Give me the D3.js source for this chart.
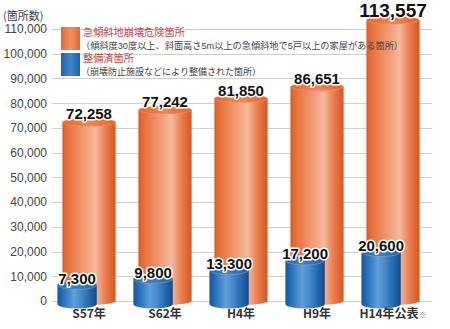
<!DOCTYPE html>
<html>
<head>
<meta charset="utf-8">
<script src="https://cdn.jsdelivr.net/npm/d3@7"></script>
<style>
  html, body { margin: 0; padding: 0; background: #fff; }
  svg { display: block; }
</style>
</head>
<body>
<script>
// Data: hazard sites vs. sites with protective works, by survey year
const categories = ["S57年", "S62年", "H4年", "H9年", "H14年公表"];
const hazardSites = [72258, 77242, 81850, 86651, 113557];
const improvedSites = [7300, 9800, 13300, 17200, 20600];
const yTicks = [0, 10000, 20000, 30000, 40000, 50000, 60000, 70000, 80000, 90000, 100000, 110000];
const legendItems = [
  { title: "急傾斜地崩壊危険箇所", note: "（傾斜度30度以上、斜面高さ5m以上の急傾斜地で5戸以上の家屋がある箇所）", kind: "orange" },
  { title: "整備済箇所", note: "（崩壊防止施設などにより整備された箇所）", kind: "blue" }
];

const W = 450, H = 329;
const svg = d3.select("body").append("svg").attr("width", W).attr("height", H);

const fontNum = "'Liberation Sans Narrow', 'Liberation Sans', Arial, sans-serif";
const fontJP = "'Noto Sans CJK JP', 'Noto Sans', sans-serif";
const fontLegend = "'Liberation Sans', 'Noto Sans CJK JP', sans-serif";

const y = d3.scaleLinear().domain([0, 110000]).range([301, 29]);
const x = d3.scaleBand().domain(categories).range([51, 431]).paddingInner(0.3).paddingOuter(0.15);

// Gradients
const defs = svg.append("defs");
function hGrad(id, stops) {
  const g = defs.append("linearGradient").attr("id", id).attr("x1", "0%").attr("x2", "100%").attr("y1", "0%").attr("y2", "0%");
  stops.forEach(([o, c]) => g.append("stop").attr("offset", o).attr("stop-color", c));
}
hGrad("orangeBody", [["0%", "#dc5c24"], ["12%", "#e8733d"], ["45%", "#f1a07a"], ["62%", "#f5b99e"], ["82%", "#ea7b4c"], ["100%", "#d6561f"]]);
hGrad("orangeTop", [["0%", "#e66830"], ["50%", "#f08554"], ["100%", "#e2652d"]]);
hGrad("blueBody", [["0%", "#1a559a"], ["14%", "#2470bb"], ["42%", "#5d9fd9"], ["58%", "#4a8ccc"], ["85%", "#1f63aa"], ["100%", "#174b88"]]);
hGrad("blueTop", [["0%", "#1f66b0"], ["50%", "#3a82c8"], ["100%", "#1d60a8"]]);
hGrad("orangeSwatch", [["0%", "#e2662e"], ["50%", "#ef9468"], ["100%", "#e2662e"]]);
hGrad("blueSwatch", [["0%", "#1d62ab"], ["50%", "#3c86cc"], ["100%", "#1d62ab"]]);

// Gridlines
const grid = svg.append("g");
grid.selectAll("line").data(yTicks).join("line")
  .attr("x1", 52).attr("x2", 432)
  .attr("y1", d => Math.round(y(d)) + 0.5).attr("y2", d => Math.round(y(d)) + 0.5)
  .attr("stroke", "#cfcfcf").attr("stroke-width", 1);

// Y axis labels
const yAxis = d3.axisLeft(y).tickValues(yTicks).tickSize(0).tickPadding(0).tickFormat(d3.format(","));
const ya = svg.append("g").attr("transform", "translate(47,0)").call(yAxis);
ya.select(".domain").remove();
ya.selectAll("text").attr("font-family", "'Liberation Sans', Arial, sans-serif").attr("font-size", 12).attr("fill", "#444");

svg.append("text").attr("x", 3).attr("y", 20)
  .attr("font-family", fontJP).attr("font-size", 11).attr("fill", "#444")
  .text("(箇所数)");

// Cylinder helper
function cylinder(g, x0, w, yTop, yBot, ry, bodyFill, topFill) {
  const rx = w / 2, cx = x0 + rx;
  g.append("path")
    .attr("d", `M${x0},${yTop} L${x0},${yBot} A${rx},${ry} 0 0 0 ${x0 + w},${yBot} L${x0 + w},${yTop} Z`)
    .attr("fill", bodyFill);
  g.append("ellipse").attr("cx", cx).attr("cy", yTop).attr("rx", rx).attr("ry", ry)
    .attr("fill", topFill).attr("stroke", "#f3a37d").attr("stroke-width", 0.6).attr("stroke-opacity", 0.7);
}

const bars = svg.append("g");
const bw = x.bandwidth();
const blueW = bw * 0.74;

// Orange cylinders
categories.forEach((c, i) => {
  cylinder(bars, x(c), bw, y(hazardSites[i]), y(0), 4, "url(#orangeBody)", "url(#orangeTop)");
});
// Blue cylinders in front
categories.forEach((c, i) => {
  cylinder(bars, x(c) - 5, blueW, y(improvedSites[i]) + 2, y(0) + 3, 4.5, "url(#blueBody)", "url(#blueTop)");
});

// Value labels with white halo
function valueLabel(px, py, val, size) {
  svg.append("text").attr("x", px).attr("y", py).attr("text-anchor", "middle")
    .attr("font-family", fontNum).attr("font-weight", "bold").attr("font-size", size)
    .attr("fill", "#111").attr("stroke", "#fff").attr("stroke-width", 3).attr("stroke-linejoin", "round")
    .attr("paint-order", "stroke")
    .text(d3.format(",")(val));
}
categories.forEach((c, i) => {
  const big = i === categories.length - 1;
  valueLabel(x(c) + bw / 2, y(hazardSites[i]) - 3, hazardSites[i], big ? 19 : 15);
  valueLabel(x(c) - 5 + blueW / 2, y(improvedSites[i]) + 1, improvedSites[i], 15);
});

// Category labels
categories.forEach((c, i) => {
  const t = svg.append("text").attr("x", x(c) + bw / 2).attr("y", 318).attr("text-anchor", "middle")
    .attr("font-family", fontJP).attr("font-weight", "bold").attr("font-size", 12).attr("fill", "#333");
  t.append("tspan").text(c);
  if (i === categories.length - 1) {
    t.append("tspan").attr("font-size", 8).attr("font-weight", "normal").attr("fill", "#777").text("※");
  }
});

// Legend, drawn on top of the bars
const lg = svg.append("g");
legendItems.forEach((it, i) => {
  const top = 27 + i * 26;
  lg.append("rect").attr("x", 61).attr("y", top).attr("width", 19).attr("height", 23)
    .attr("fill", it.kind === "orange" ? "url(#orangeSwatch)" : "url(#blueSwatch)");
  lg.append("text").attr("x", 83).attr("y", top + 9)
    .attr("font-family", fontLegend).attr("font-size", 10.2).attr("fill", "#c8433d")
    .text(it.title);
  const note = lg.append("text").attr("x", 81).attr("y", top + 21.5)
    .attr("font-family", fontLegend).attr("font-size", 9.2).attr("fill", "#444")
    .text(it.note);
  if (i === 0) note.attr("textLength", 322).attr("lengthAdjust", "spacingAndGlyphs");
  else note.attr("textLength", 180).attr("lengthAdjust", "spacingAndGlyphs");
});
</script>
</body>
</html>
